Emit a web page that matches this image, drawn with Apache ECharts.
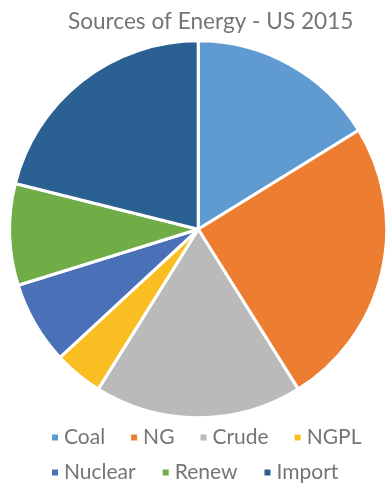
<!DOCTYPE html>
<html>
<head>
<meta charset="utf-8">
<script src="https://cdn.jsdelivr.net/npm/echarts@6/dist/echarts.min.js"></script>
<style>
  html, body { margin: 0; padding: 0; background: #fff; }
  #chart { width: 387px; height: 483px; }
</style>
</head>
<body>
<div id="chart"></div>
<script>
// Energy sources, US 2015 (share of total supply, %)
const categories = ['Coal', 'NG', 'Crude', 'NGPL', 'Nuclear', 'Renew', 'Import'];
const shares = [16.2, 24.9, 17.8, 4.2, 7.1, 8.7, 21.1];
const colors = ['#5f9bd1', '#ed7d31', '#bababa', '#f9bf22', '#4a70b8', '#70ad47', '#2b6093'];

const chart = echarts.init(document.getElementById('chart'), null, { renderer: 'canvas' });

const legendText = { color: '#757575', fontSize: 21, fontFamily: 'Lato, sans-serif' };

chart.setOption({
  animation: false,
  color: colors,
  title: {
    text: 'Sources of Energy - US 2015',
    left: 63,
    top: 5,
    textStyle: { color: '#757575', fontSize: 22.6, fontWeight: 'normal', fontFamily: 'Lato, sans-serif' }
  },
  legend: [
    {
      data: categories.slice(0, 4),
      left: 45, top: 422,
      icon: 'rect', itemWidth: 8, itemHeight: 8, itemGap: 24,
      textStyle: legendText
    },
    {
      data: categories.slice(4),
      left: 45, top: 457,
      icon: 'rect', itemWidth: 8, itemHeight: 8, itemGap: 25,
      textStyle: legendText
    }
  ],
  series: [{
    type: 'pie',
    center: [198.2, 229.3],
    radius: 188.5,
    startAngle: 90,
    clockwise: true,
    label: { show: false },
    labelLine: { show: false },
    itemStyle: { borderColor: '#ffffff', borderWidth: 3 },
    emphasis: { disabled: true },
    data: categories.map((name, i) => ({ name, value: shares[i] }))
  }]
});
</script>
</body>
</html>
